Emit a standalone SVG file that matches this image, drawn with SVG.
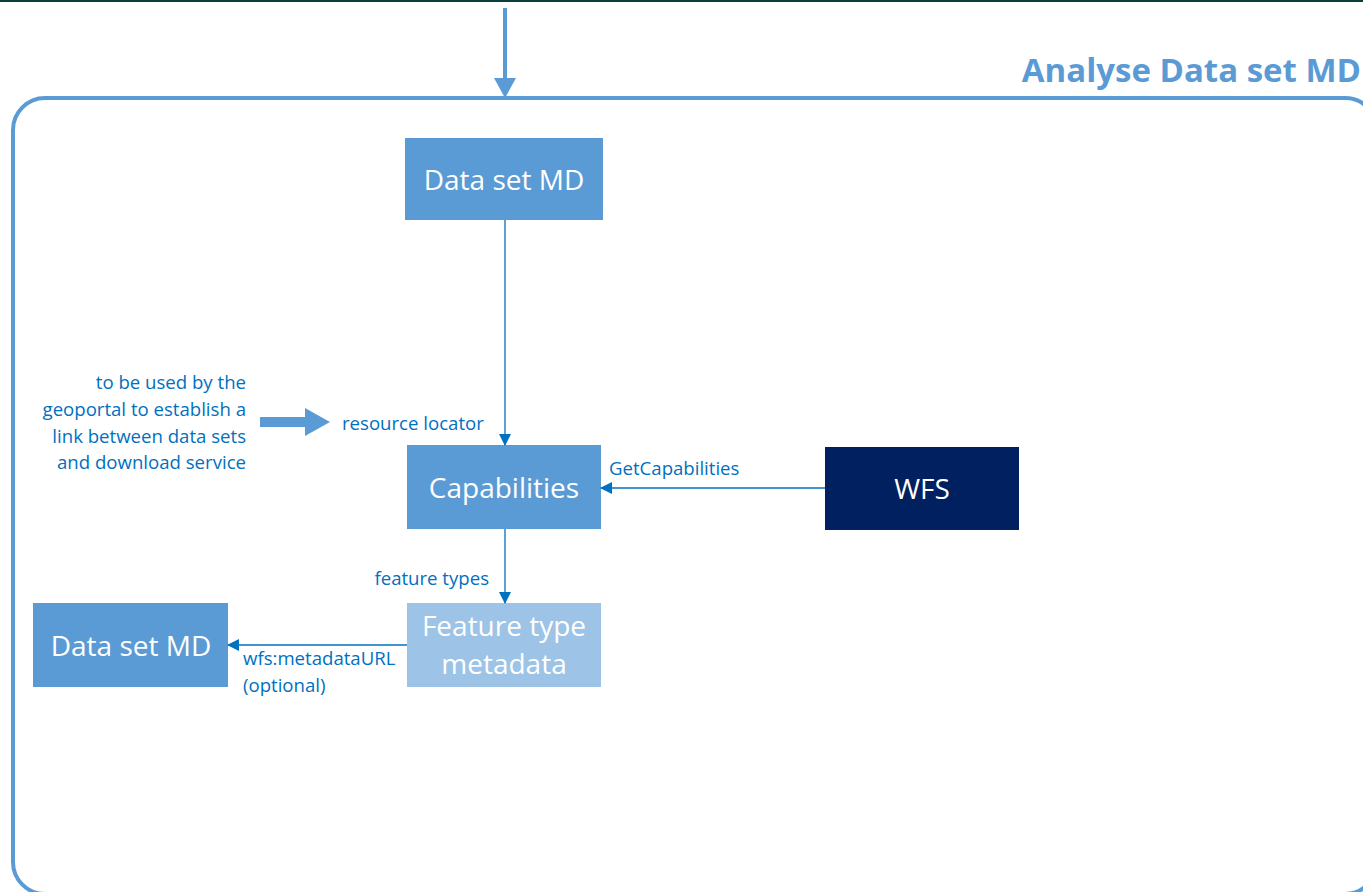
<svg xmlns="http://www.w3.org/2000/svg" width="1363" height="892" viewBox="0 0 1363 892">
<style>
.box{fill:#5b9bd5}
.nt{font-family:"Open Sans","Liberation Sans",sans-serif;font-size:28px;fill:#ffffff;text-anchor:middle}
.lbl{font-family:"Open Sans","Liberation Sans",sans-serif;font-size:18.6px;fill:#0070c0}
.con{stroke:#0070c0;stroke-width:1.3;fill:none;marker-end:url(#ah)}
</style>
<defs>
<marker id="ah" markerWidth="12" markerHeight="12" refX="11" refY="6" orient="auto" markerUnits="userSpaceOnUse">
<path d="M0,0 L12,6 L0,12 Z" fill="#0070c0"/>
</marker>
</defs>
<rect x="0" y="0" width="1363" height="892" fill="#ffffff"/>
<rect x="0" y="0" width="1363" height="2" fill="#0b3d3a"/>
<g id="container">
<rect x="13" y="98" width="1364" height="796" rx="32" ry="32" fill="none" stroke="#5b9bd5" stroke-width="4"/>
<text x="1361" y="82" font-family="'Open Sans','Liberation Sans',sans-serif" font-weight="bold" font-size="33" fill="#5b9bd5" text-anchor="end">Analyse Data set MD</text>
</g>
<g id="entry-arrow">
<line x1="505" y1="8" x2="505" y2="80" stroke="#5b9bd5" stroke-width="4"/>
<path d="M494,78 L516,78 L505,98 Z" fill="#5b9bd5"/>
</g>
<g id="node-datasetmd-top">
<rect class="box" x="405" y="138" width="198" height="82"/>
<text class="nt" x="504" y="190">Data set MD</text>
</g>
<g id="node-capabilities">
<rect class="box" x="407" y="445" width="194" height="84"/>
<text class="nt" x="504" y="498">Capabilities</text>
</g>
<g id="node-featuretype">
<rect x="407" y="603" width="194" height="84" fill="#9dc3e6"/>
<text class="nt" x="504" y="636">Feature type</text>
<text class="nt" x="504" y="674">metadata</text>
</g>
<g id="node-wfs">
<rect x="825" y="447" width="194" height="83" fill="#002060"/>
<text class="nt" x="922" y="499">WFS</text>
</g>
<g id="node-datasetmd-left">
<rect class="box" x="33" y="603" width="195" height="84"/>
<text class="nt" x="131" y="656">Data set MD</text>
</g>
<g id="note">
<text class="lbl" text-anchor="end" x="246" y="389">to be used by the</text>
<text class="lbl" text-anchor="end" x="246" y="416">geoportal to establish a</text>
<text class="lbl" text-anchor="end" x="246" y="443">link between data sets</text>
<text class="lbl" text-anchor="end" x="246" y="469">and download service</text>
<path d="M260,417 L305,417 L305,408 L330,422 L305,436 L305,427 L260,427 Z" fill="#5b9bd5"/>
</g>
<g id="connectors">
<line class="con" x1="505" y1="220" x2="505" y2="445"/>
<line class="con" x1="825" y1="488" x2="601" y2="488"/>
<line class="con" x1="505" y1="529" x2="505" y2="603"/>
<line class="con" x1="407" y1="645" x2="228" y2="645"/>
<text class="lbl" x="342" y="430">resource locator</text>
<text class="lbl" x="609" y="475">GetCapabilities</text>
<text class="lbl" x="489" y="585" text-anchor="end">feature types</text>
<text class="lbl" x="243" y="665">wfs:metadataURL</text>
<text class="lbl" x="243" y="692">(optional)</text>
</g>
</svg>
